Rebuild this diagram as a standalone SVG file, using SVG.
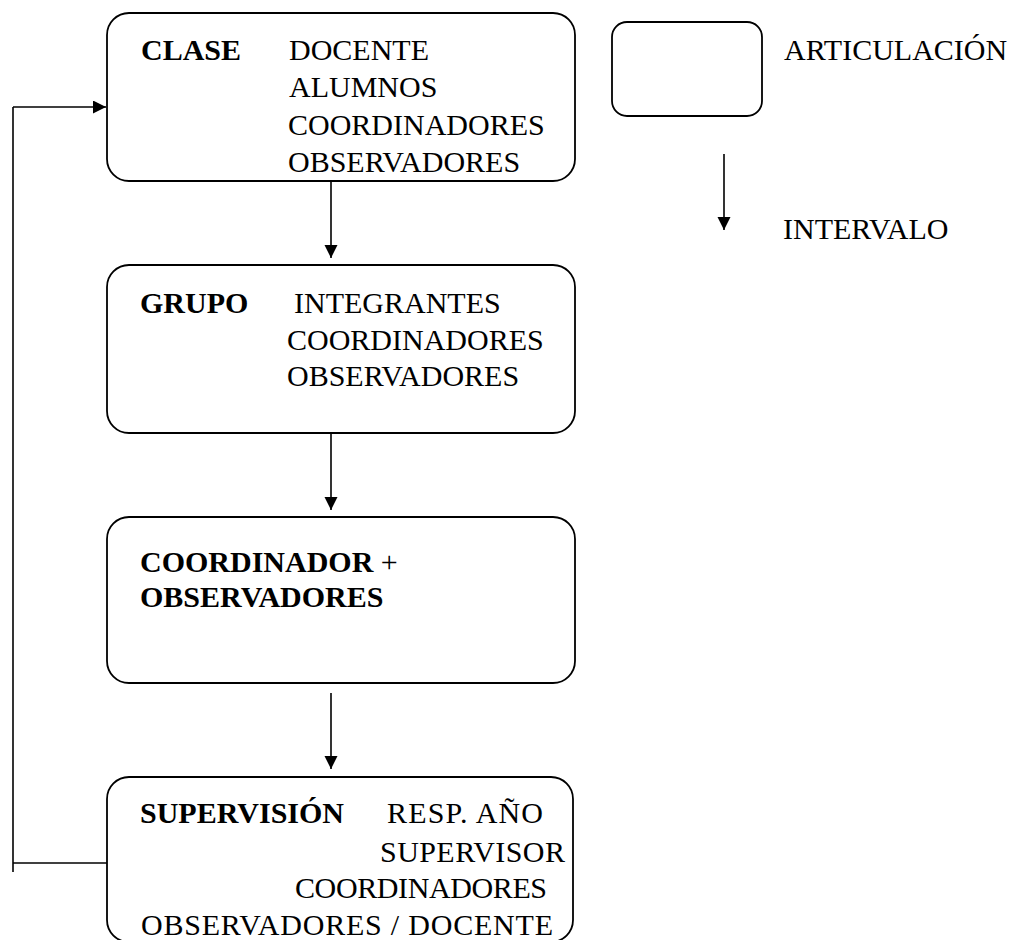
<svg xmlns="http://www.w3.org/2000/svg" width="1016" height="940" viewBox="0 0 1016 940">
<style>
.box{fill:#fff;stroke:#000;stroke-width:1.8}
.t{font-family:"Liberation Serif","Times New Roman",serif;font-size:30px;fill:#000}
.b{font-weight:bold}
.c{fill:none;stroke:#000;stroke-width:1.6}
</style>
<defs>
<marker id="ah" markerUnits="userSpaceOnUse" markerWidth="14" markerHeight="14" refX="13" refY="6.5" orient="auto">
<path d="M0,0 L13,6.5 L0,13 z" fill="#000"/>
</marker>
</defs>
<rect width="1016" height="940" fill="#fff"/>
<g id="connectors">
<line class="c" x1="331" y1="181" x2="331" y2="258" marker-end="url(#ah)"/>
<line class="c" x1="331" y1="434" x2="331" y2="510" marker-end="url(#ah)"/>
<line class="c" x1="331" y1="693" x2="331" y2="769" marker-end="url(#ah)"/>
<polyline class="c" points="107,863 13,863"/>
<line class="c" x1="13" y1="872" x2="13" y2="107"/>
<line class="c" x1="13" y1="107" x2="106" y2="107" marker-end="url(#ah)"/>
</g>
<g id="clase">
<rect class="box" x="107" y="13" width="468" height="168" rx="22"/>
<text class="t b" x="141" y="60">CLASE</text>
<text class="t" x="289" y="60">DOCENTE</text>
<text class="t" x="289" y="97">ALUMNOS</text>
<text class="t" x="288" y="135">COORDINADORES</text>
<text class="t" x="288" y="172">OBSERVADORES</text>
</g>
<g id="grupo">
<rect class="box" x="107" y="265" width="468" height="168" rx="22"/>
<text class="t b" x="140" y="313">GRUPO</text>
<text class="t" x="294" y="313">INTEGRANTES</text>
<text class="t" x="287" y="350">COORDINADORES</text>
<text class="t" x="287" y="386">OBSERVADORES</text>
</g>
<g id="coordinador">
<rect class="box" x="107" y="517" width="468" height="166" rx="22"/>
<text class="t" x="140" y="572"><tspan class="b">COORDINADOR</tspan> +</text>
<text class="t b" x="140" y="607">OBSERVADORES</text>
</g>
<g id="supervision">
<rect class="box" x="107" y="777" width="466" height="165" rx="22"/>
<text class="t b" x="140" y="823">SUPERVISIÓN</text>
<text class="t" x="387" y="823" textLength="156">RESP. AÑO</text>
<text class="t" x="380" y="862" textLength="185">SUPERVISOR</text>
<text class="t" x="295" y="898" textLength="252">COORDINADORES</text>
<text class="t" x="141" y="935" textLength="412">OBSERVADORES / DOCENTE</text>
</g>
<g id="legend-articulacion">
<rect class="box" x="612" y="22" width="150" height="94" rx="15"/>
<text class="t" x="784" y="60">ARTICULACIÓN</text>
</g>
<g id="legend-intervalo">
<line class="c" x1="724" y1="154" x2="724" y2="230" marker-end="url(#ah)"/>
<text class="t" x="783" y="239">INTERVALO</text>
</g>
</svg>
